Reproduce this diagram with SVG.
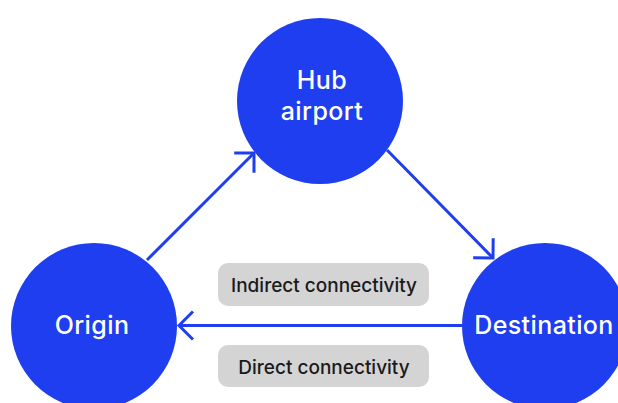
<svg xmlns="http://www.w3.org/2000/svg" width="618" height="403" viewBox="0 0 618 403">
<defs>
<style>
.node{fill:#1e3ef0;}
.nlabel{fill:#ffffff;font-family:Inter,"Liberation Sans",sans-serif;font-size:25px;font-weight:500;text-anchor:middle;letter-spacing:0.4px;}
.conn{stroke:#1e3ef0;stroke-width:3;fill:none;}
.tag{fill:#d4d4d4;}
.tlabel{fill:#1a1a1a;font-family:Inter,"Liberation Sans",sans-serif;font-size:19px;font-weight:500;text-anchor:middle;}
</style>
<marker id="arrow" markerUnits="userSpaceOnUse" markerWidth="40" markerHeight="40" viewBox="-20 -20 40 40" refX="0" refY="0" orient="auto" overflow="visible">
<path d="M-14,-14 L0,0 L-14,14" fill="none" stroke="#1e3ef0" stroke-width="3"/>
</marker>
</defs>
<rect width="618" height="403" fill="#ffffff"/>
<g id="connectors">
<line class="conn" x1="147" y1="260" x2="254" y2="153" marker-end="url(#arrow)"/>
<line class="conn" x1="387" y1="150" x2="493" y2="258" marker-end="url(#arrow)"/>
<line class="conn" x1="462" y1="325.5" x2="179" y2="325.5" marker-end="url(#arrow)"/>
</g>
<g id="hub">
<circle class="node" cx="320" cy="101" r="83"/>
<text class="nlabel" x="322" y="89">Hub</text>
<text class="nlabel" x="322" y="120">airport</text>
</g>
<g id="origin">
<circle class="node" cx="94" cy="326" r="83"/>
<text class="nlabel" x="92" y="334">Origin</text>
</g>
<g id="destination">
<circle class="node" cx="545" cy="326" r="83"/>
<text class="nlabel" x="544" y="334">Destination</text>
</g>
<g id="indirect">
<rect class="tag" x="218" y="263" width="211" height="43" rx="10"/>
<text class="tlabel" x="324" y="292">Indirect connectivity</text>
</g>
<g id="direct">
<rect class="tag" x="218" y="345" width="211" height="42" rx="10"/>
<text class="tlabel" x="324" y="374">Direct connectivity</text>
</g>
</svg>
